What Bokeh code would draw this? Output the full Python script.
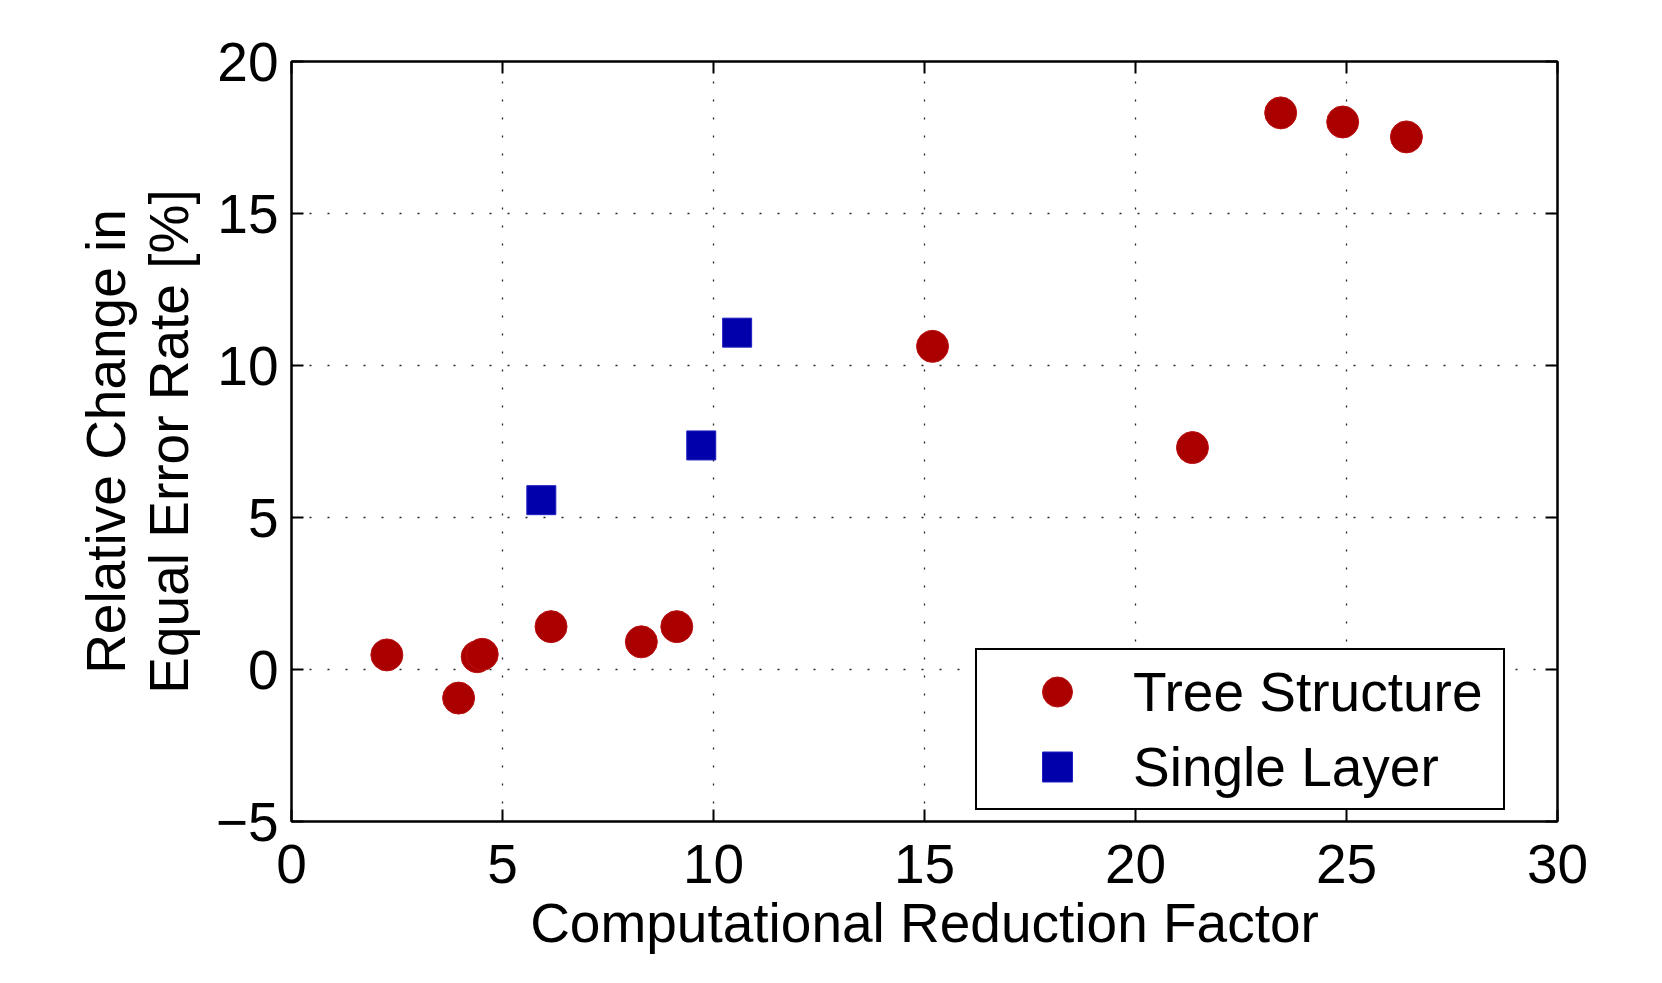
from bokeh.plotting import figure
from bokeh.models import (Range1d, LinearAxis, SingleIntervalTicker,
                          CustomJSTickFormatter, Legend, LegendItem)
from bokeh.embed import file_html
from bokeh.resources import INLINE

tree_x = [2.26, 3.96, 4.40, 4.52, 6.15, 8.29, 9.13, 15.19, 21.35, 23.44, 24.91, 26.42]
tree_y = [0.48, -0.94, 0.42, 0.50, 1.41, 0.91, 1.41, 10.63, 7.30, 18.31, 18.01, 17.52]
single_x = [5.92, 9.71, 10.56]
single_y = [5.57, 7.37, 11.08]

x_label = "Computational Reduction Factor"
y_label = "Relative Change in\nEqual Error Rate [%]"
series_names = ["Tree Structure", "Single Layer"]

FONT = "Liberation Sans"
FS = "55px"

p = figure(frame_width=1266, frame_height=760,
           x_range=Range1d(0, 30), y_range=Range1d(-5, 20),
           output_backend="svg", toolbar_location=None,
           min_border_left=291, min_border_top=61, min_border_right=80,
           min_border_bottom=140, background_fill_color="white",
           border_fill_color="white")

p.outline_line_color = "black"
p.outline_line_width = 2

fmt = CustomJSTickFormatter(code="return tick < 0 ? '\\u2212' + Math.abs(tick) : tick.toString();")
blank = CustomJSTickFormatter(code="return '';")

def style_axis(ax, labels=True):
    ax.ticker = SingleIntervalTicker(interval=5, num_minor_ticks=0)
    ax.axis_line_color = "black"
    ax.axis_line_width = 2
    ax.major_tick_in = 12
    ax.major_tick_out = 0
    ax.major_tick_line_width = 2
    ax.major_tick_line_color = "black"
    ax.minor_tick_line_color = None
    if labels:
        ax.major_label_text_font = FONT
        ax.major_label_text_font_size = FS
        ax.major_label_text_color = "black"
        ax.formatter = fmt
        ax.axis_label_text_font = FONT
        ax.axis_label_text_font_size = FS
        ax.axis_label_text_font_style = "normal"
        ax.axis_label_text_color = "black"
    else:
        ax.formatter = blank
        ax.major_label_standoff = 0

xa = p.xaxis[0]
ya = p.yaxis[0]
style_axis(xa)
style_axis(ya)
xa.axis_label = x_label
ya.axis_label = y_label
xa.major_label_standoff = 23
xa.axis_label_standoff = 6
ya.major_label_standoff = 13
ya.axis_label_standoff = 13
ya.axis_label_text_line_height = 1.02

top_ax = LinearAxis()
right_ax = LinearAxis()
style_axis(top_ax, labels=False)
style_axis(right_ax, labels=False)
p.add_layout(top_ax, "above")
p.add_layout(right_ax, "right")

for g in (p.xgrid[0], p.ygrid[0]):
    g.ticker = SingleIntervalTicker(interval=5, num_minor_ticks=0)
    g.grid_line_color = "black"
    g.grid_line_alpha = 0.85
    g.grid_line_width = 1.3
    g.grid_line_dash = "2 16"

r_tree = p.scatter(tree_x, tree_y, marker="circle", size=32,
                   fill_color="#AA0000", line_color="#BB1010", line_width=1)
r_single = p.scatter(single_x, single_y, marker="square", size=29,
                     fill_color="#0000AA", line_color="#2020C0", line_width=1)

legend = Legend(items=[LegendItem(label=series_names[0], renderers=[r_tree]),
                       LegendItem(label=series_names[1], renderers=[r_single])],
                location=(684, 11), margin=0, padding=4,
                glyph_width=152, glyph_height=75, label_height=75,
                spacing=-3, label_standoff=-7, label_width=366,
                label_text_font=FONT, label_text_font_size=FS,
                label_text_color="black",
                border_line_color="black", border_line_width=2,
                border_line_alpha=1,
                background_fill_color="white", background_fill_alpha=1)
p.add_layout(legend, "center")

open("out.html", "w").write(file_html(p, INLINE))
